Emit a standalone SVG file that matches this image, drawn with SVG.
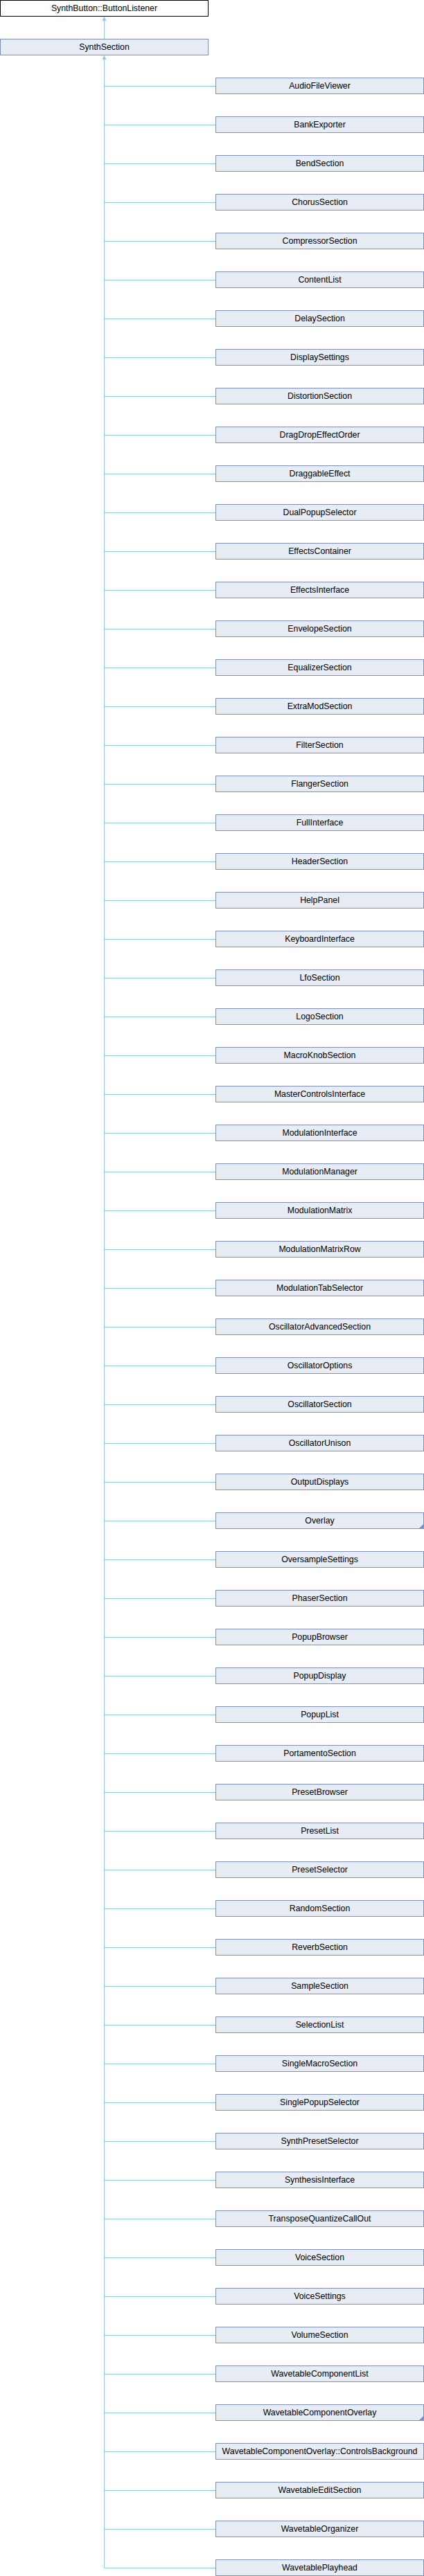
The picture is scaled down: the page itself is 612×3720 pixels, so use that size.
<svg xmlns="http://www.w3.org/2000/svg" width="612" height="3720" viewBox="0 0 612 3720">
<style>
.n rect{fill:#e8ecf4;stroke:#7b8fc9;stroke-width:1}
.r rect{fill:#ffffff;stroke:#000000;stroke-width:1}
text{font-family:"Liberation Sans",Arial,sans-serif;font-size:12.3px;fill:#000000;text-anchor:middle}
.e{fill:none;stroke:#8ecbea;stroke-width:1}
.ah{fill:#8ecbea}
.tri{fill:#7b8fc9}
</style>
<rect width="612" height="3720" fill="#ffffff"/>
<g id="connectors">
<path class="e" d="M150.5,79 V29"/>
<path class="ah" d="M150.5,24 L153.5,30 L147.5,30 Z"/>
<path class="e" d="M150.5,85 V3708.5"/>
<path class="ah" d="M150.5,80 L153.5,86 L147.5,86 Z"/>
<path class="e" d="M150.5,124.5 H311 M150.5,180.5 H311 M150.5,236.5 H311 M150.5,292.5 H311 M150.5,348.5 H311 M150.5,404.5 H311 M150.5,460.5 H311 M150.5,516.5 H311 M150.5,572.5 H311 M150.5,628.5 H311 M150.5,684.5 H311 M150.5,740.5 H311 M150.5,796.5 H311 M150.5,852.5 H311 M150.5,908.5 H311 M150.5,964.5 H311 M150.5,1020.5 H311 M150.5,1076.5 H311 M150.5,1132.5 H311 M150.5,1188.5 H311 M150.5,1244.5 H311 M150.5,1300.5 H311 M150.5,1356.5 H311 M150.5,1412.5 H311 M150.5,1468.5 H311 M150.5,1524.5 H311 M150.5,1580.5 H311 M150.5,1636.5 H311 M150.5,1692.5 H311 M150.5,1748.5 H311 M150.5,1804.5 H311 M150.5,1860.5 H311 M150.5,1916.5 H311 M150.5,1972.5 H311 M150.5,2028.5 H311 M150.5,2084.5 H311 M150.5,2140.5 H311 M150.5,2196.5 H311 M150.5,2252.5 H311 M150.5,2308.5 H311 M150.5,2364.5 H311 M150.5,2420.5 H311 M150.5,2476.5 H311 M150.5,2532.5 H311 M150.5,2588.5 H311 M150.5,2644.5 H311 M150.5,2700.5 H311 M150.5,2756.5 H311 M150.5,2812.5 H311 M150.5,2868.5 H311 M150.5,2924.5 H311 M150.5,2980.5 H311 M150.5,3036.5 H311 M150.5,3092.5 H311 M150.5,3148.5 H311 M150.5,3204.5 H311 M150.5,3260.5 H311 M150.5,3316.5 H311 M150.5,3372.5 H311 M150.5,3428.5 H311 M150.5,3484.5 H311 M150.5,3540.5 H311 M150.5,3596.5 H311 M150.5,3652.5 H311 M150.5,3708.5 H311"/>
</g>
<g id="ButtonListener" class="r"><rect x="0.5" y="0.5" width="300" height="23"/><text x="150.5" y="15.5">SynthButton::ButtonListener</text></g>
<g id="SynthSection" class="n"><rect x="0.5" y="56.5" width="300" height="23"/><text x="150.5" y="71.5">SynthSection</text></g>
<g id="AudioFileViewer" class="n" transform="translate(0,112)"><rect x="311.5" y="0.5" width="300" height="23"/><text x="461.5" y="15.5">AudioFileViewer</text></g>
<g id="BankExporter" class="n" transform="translate(0,168)"><rect x="311.5" y="0.5" width="300" height="23"/><text x="461.5" y="15.5">BankExporter</text></g>
<g id="BendSection" class="n" transform="translate(0,224)"><rect x="311.5" y="0.5" width="300" height="23"/><text x="461.5" y="15.5">BendSection</text></g>
<g id="ChorusSection" class="n" transform="translate(0,280)"><rect x="311.5" y="0.5" width="300" height="23"/><text x="461.5" y="15.5">ChorusSection</text></g>
<g id="CompressorSection" class="n" transform="translate(0,336)"><rect x="311.5" y="0.5" width="300" height="23"/><text x="461.5" y="15.5">CompressorSection</text></g>
<g id="ContentList" class="n" transform="translate(0,392)"><rect x="311.5" y="0.5" width="300" height="23"/><text x="461.5" y="15.5">ContentList</text></g>
<g id="DelaySection" class="n" transform="translate(0,448)"><rect x="311.5" y="0.5" width="300" height="23"/><text x="461.5" y="15.5">DelaySection</text></g>
<g id="DisplaySettings" class="n" transform="translate(0,504)"><rect x="311.5" y="0.5" width="300" height="23"/><text x="461.5" y="15.5">DisplaySettings</text></g>
<g id="DistortionSection" class="n" transform="translate(0,560)"><rect x="311.5" y="0.5" width="300" height="23"/><text x="461.5" y="15.5">DistortionSection</text></g>
<g id="DragDropEffectOrder" class="n" transform="translate(0,616)"><rect x="311.5" y="0.5" width="300" height="23"/><text x="461.5" y="15.5">DragDropEffectOrder</text></g>
<g id="DraggableEffect" class="n" transform="translate(0,672)"><rect x="311.5" y="0.5" width="300" height="23"/><text x="461.5" y="15.5">DraggableEffect</text></g>
<g id="DualPopupSelector" class="n" transform="translate(0,728)"><rect x="311.5" y="0.5" width="300" height="23"/><text x="461.5" y="15.5">DualPopupSelector</text></g>
<g id="EffectsContainer" class="n" transform="translate(0,784)"><rect x="311.5" y="0.5" width="300" height="23"/><text x="461.5" y="15.5">EffectsContainer</text></g>
<g id="EffectsInterface" class="n" transform="translate(0,840)"><rect x="311.5" y="0.5" width="300" height="23"/><text x="461.5" y="15.5">EffectsInterface</text></g>
<g id="EnvelopeSection" class="n" transform="translate(0,896)"><rect x="311.5" y="0.5" width="300" height="23"/><text x="461.5" y="15.5">EnvelopeSection</text></g>
<g id="EqualizerSection" class="n" transform="translate(0,952)"><rect x="311.5" y="0.5" width="300" height="23"/><text x="461.5" y="15.5">EqualizerSection</text></g>
<g id="ExtraModSection" class="n" transform="translate(0,1008)"><rect x="311.5" y="0.5" width="300" height="23"/><text x="461.5" y="15.5">ExtraModSection</text></g>
<g id="FilterSection" class="n" transform="translate(0,1064)"><rect x="311.5" y="0.5" width="300" height="23"/><text x="461.5" y="15.5">FilterSection</text></g>
<g id="FlangerSection" class="n" transform="translate(0,1120)"><rect x="311.5" y="0.5" width="300" height="23"/><text x="461.5" y="15.5">FlangerSection</text></g>
<g id="FullInterface" class="n" transform="translate(0,1176)"><rect x="311.5" y="0.5" width="300" height="23"/><text x="461.5" y="15.5">FullInterface</text></g>
<g id="HeaderSection" class="n" transform="translate(0,1232)"><rect x="311.5" y="0.5" width="300" height="23"/><text x="461.5" y="15.5">HeaderSection</text></g>
<g id="HelpPanel" class="n" transform="translate(0,1288)"><rect x="311.5" y="0.5" width="300" height="23"/><text x="461.5" y="15.5">HelpPanel</text></g>
<g id="KeyboardInterface" class="n" transform="translate(0,1344)"><rect x="311.5" y="0.5" width="300" height="23"/><text x="461.5" y="15.5">KeyboardInterface</text></g>
<g id="LfoSection" class="n" transform="translate(0,1400)"><rect x="311.5" y="0.5" width="300" height="23"/><text x="461.5" y="15.5">LfoSection</text></g>
<g id="LogoSection" class="n" transform="translate(0,1456)"><rect x="311.5" y="0.5" width="300" height="23"/><text x="461.5" y="15.5">LogoSection</text></g>
<g id="MacroKnobSection" class="n" transform="translate(0,1512)"><rect x="311.5" y="0.5" width="300" height="23"/><text x="461.5" y="15.5">MacroKnobSection</text></g>
<g id="MasterControlsInterface" class="n" transform="translate(0,1568)"><rect x="311.5" y="0.5" width="300" height="23"/><text x="461.5" y="15.5">MasterControlsInterface</text></g>
<g id="ModulationInterface" class="n" transform="translate(0,1624)"><rect x="311.5" y="0.5" width="300" height="23"/><text x="461.5" y="15.5">ModulationInterface</text></g>
<g id="ModulationManager" class="n" transform="translate(0,1680)"><rect x="311.5" y="0.5" width="300" height="23"/><text x="461.5" y="15.5">ModulationManager</text></g>
<g id="ModulationMatrix" class="n" transform="translate(0,1736)"><rect x="311.5" y="0.5" width="300" height="23"/><text x="461.5" y="15.5">ModulationMatrix</text></g>
<g id="ModulationMatrixRow" class="n" transform="translate(0,1792)"><rect x="311.5" y="0.5" width="300" height="23"/><text x="461.5" y="15.5">ModulationMatrixRow</text></g>
<g id="ModulationTabSelector" class="n" transform="translate(0,1848)"><rect x="311.5" y="0.5" width="300" height="23"/><text x="461.5" y="15.5">ModulationTabSelector</text></g>
<g id="OscillatorAdvancedSection" class="n" transform="translate(0,1904)"><rect x="311.5" y="0.5" width="300" height="23"/><text x="461.5" y="15.5">OscillatorAdvancedSection</text></g>
<g id="OscillatorOptions" class="n" transform="translate(0,1960)"><rect x="311.5" y="0.5" width="300" height="23"/><text x="461.5" y="15.5">OscillatorOptions</text></g>
<g id="OscillatorSection" class="n" transform="translate(0,2016)"><rect x="311.5" y="0.5" width="300" height="23"/><text x="461.5" y="15.5">OscillatorSection</text></g>
<g id="OscillatorUnison" class="n" transform="translate(0,2072)"><rect x="311.5" y="0.5" width="300" height="23"/><text x="461.5" y="15.5">OscillatorUnison</text></g>
<g id="OutputDisplays" class="n" transform="translate(0,2128)"><rect x="311.5" y="0.5" width="300" height="23"/><text x="461.5" y="15.5">OutputDisplays</text></g>
<g id="Overlay" class="n" transform="translate(0,2184)"><rect x="311.5" y="0.5" width="300" height="23"/><text x="461.5" y="15.5">Overlay</text><path class="tri" d="M612,16 V24 H604 Z"/></g>
<g id="OversampleSettings" class="n" transform="translate(0,2240)"><rect x="311.5" y="0.5" width="300" height="23"/><text x="461.5" y="15.5">OversampleSettings</text></g>
<g id="PhaserSection" class="n" transform="translate(0,2296)"><rect x="311.5" y="0.5" width="300" height="23"/><text x="461.5" y="15.5">PhaserSection</text></g>
<g id="PopupBrowser" class="n" transform="translate(0,2352)"><rect x="311.5" y="0.5" width="300" height="23"/><text x="461.5" y="15.5">PopupBrowser</text></g>
<g id="PopupDisplay" class="n" transform="translate(0,2408)"><rect x="311.5" y="0.5" width="300" height="23"/><text x="461.5" y="15.5">PopupDisplay</text></g>
<g id="PopupList" class="n" transform="translate(0,2464)"><rect x="311.5" y="0.5" width="300" height="23"/><text x="461.5" y="15.5">PopupList</text></g>
<g id="PortamentoSection" class="n" transform="translate(0,2520)"><rect x="311.5" y="0.5" width="300" height="23"/><text x="461.5" y="15.5">PortamentoSection</text></g>
<g id="PresetBrowser" class="n" transform="translate(0,2576)"><rect x="311.5" y="0.5" width="300" height="23"/><text x="461.5" y="15.5">PresetBrowser</text></g>
<g id="PresetList" class="n" transform="translate(0,2632)"><rect x="311.5" y="0.5" width="300" height="23"/><text x="461.5" y="15.5">PresetList</text></g>
<g id="PresetSelector" class="n" transform="translate(0,2688)"><rect x="311.5" y="0.5" width="300" height="23"/><text x="461.5" y="15.5">PresetSelector</text></g>
<g id="RandomSection" class="n" transform="translate(0,2744)"><rect x="311.5" y="0.5" width="300" height="23"/><text x="461.5" y="15.5">RandomSection</text></g>
<g id="ReverbSection" class="n" transform="translate(0,2800)"><rect x="311.5" y="0.5" width="300" height="23"/><text x="461.5" y="15.5">ReverbSection</text></g>
<g id="SampleSection" class="n" transform="translate(0,2856)"><rect x="311.5" y="0.5" width="300" height="23"/><text x="461.5" y="15.5">SampleSection</text></g>
<g id="SelectionList" class="n" transform="translate(0,2912)"><rect x="311.5" y="0.5" width="300" height="23"/><text x="461.5" y="15.5">SelectionList</text></g>
<g id="SingleMacroSection" class="n" transform="translate(0,2968)"><rect x="311.5" y="0.5" width="300" height="23"/><text x="461.5" y="15.5">SingleMacroSection</text></g>
<g id="SinglePopupSelector" class="n" transform="translate(0,3024)"><rect x="311.5" y="0.5" width="300" height="23"/><text x="461.5" y="15.5">SinglePopupSelector</text></g>
<g id="SynthPresetSelector" class="n" transform="translate(0,3080)"><rect x="311.5" y="0.5" width="300" height="23"/><text x="461.5" y="15.5">SynthPresetSelector</text></g>
<g id="SynthesisInterface" class="n" transform="translate(0,3136)"><rect x="311.5" y="0.5" width="300" height="23"/><text x="461.5" y="15.5">SynthesisInterface</text></g>
<g id="TransposeQuantizeCallOut" class="n" transform="translate(0,3192)"><rect x="311.5" y="0.5" width="300" height="23"/><text x="461.5" y="15.5">TransposeQuantizeCallOut</text></g>
<g id="VoiceSection" class="n" transform="translate(0,3248)"><rect x="311.5" y="0.5" width="300" height="23"/><text x="461.5" y="15.5">VoiceSection</text></g>
<g id="VoiceSettings" class="n" transform="translate(0,3304)"><rect x="311.5" y="0.5" width="300" height="23"/><text x="461.5" y="15.5">VoiceSettings</text></g>
<g id="VolumeSection" class="n" transform="translate(0,3360)"><rect x="311.5" y="0.5" width="300" height="23"/><text x="461.5" y="15.5">VolumeSection</text></g>
<g id="WavetableComponentList" class="n" transform="translate(0,3416)"><rect x="311.5" y="0.5" width="300" height="23"/><text x="461.5" y="15.5">WavetableComponentList</text></g>
<g id="WavetableComponentOverlay" class="n" transform="translate(0,3472)"><rect x="311.5" y="0.5" width="300" height="23"/><text x="461.5" y="15.5">WavetableComponentOverlay</text><path class="tri" d="M612,16 V24 H604 Z"/></g>
<g id="ControlsBackground" class="n" transform="translate(0,3528)"><rect x="311.5" y="0.5" width="300" height="23"/><text x="461.5" y="15.5">WavetableComponentOverlay::ControlsBackground</text></g>
<g id="WavetableEditSection" class="n" transform="translate(0,3584)"><rect x="311.5" y="0.5" width="300" height="23"/><text x="461.5" y="15.5">WavetableEditSection</text></g>
<g id="WavetableOrganizer" class="n" transform="translate(0,3640)"><rect x="311.5" y="0.5" width="300" height="23"/><text x="461.5" y="15.5">WavetableOrganizer</text></g>
<g id="WavetablePlayhead" class="n" transform="translate(0,3696)"><rect x="311.5" y="0.5" width="300" height="23"/><text x="461.5" y="15.5">WavetablePlayhead</text></g>
</svg>
